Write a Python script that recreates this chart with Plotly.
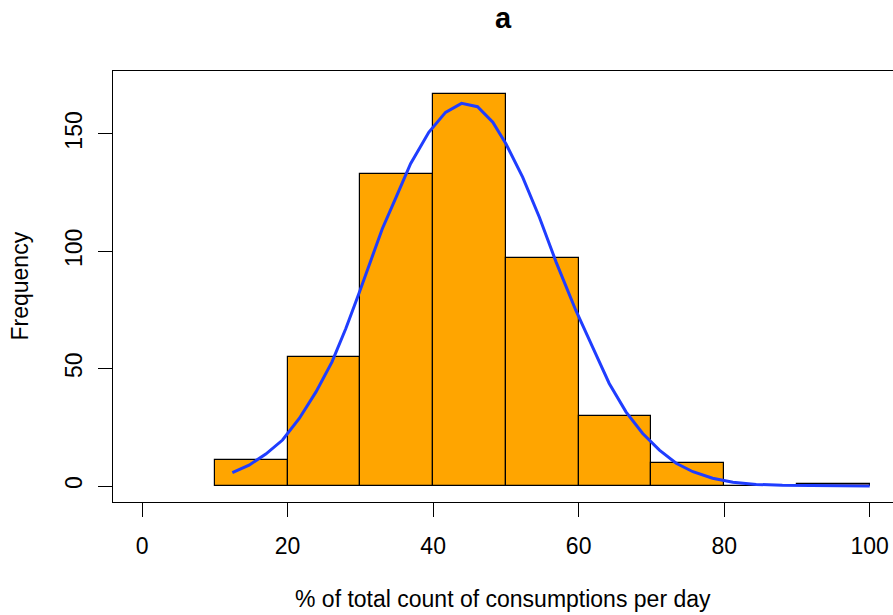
import plotly.graph_objects as go

# Histogram bins (left edges) and counts
bin_left = [10, 20, 30, 40, 50, 60, 70, 80, 90]
counts = [11, 55, 133, 167, 97, 30, 10, 0, 1]
bin_width = 10

# Fitted density curve (scaled to counts)
curve_x = [12.4, 14.7, 17.0, 19.3, 21.6, 23.9, 26.1, 28.0, 29.8, 31.6, 33.0, 34.9,
           36.9, 39.4, 41.7, 43.9, 46.1, 48.2, 50.0, 52.3, 54.6, 56.9, 59.6, 61.9,
           64.2, 66.5, 68.8, 71.1, 73.4, 75.7, 78.4, 81.2, 84.4, 88.0, 92.0, 96.0, 100.0]
curve_y = [5.7, 8.9, 13.6, 19.6, 28.8, 40.1, 52.9, 67.1, 82.0, 97.5, 109.5, 123.0,
           137.3, 150.7, 159.2, 163.0, 161.6, 155.0, 145.8, 131.6, 114.5, 95.4, 74.9, 59.3,
           43.7, 31.6, 22.4, 15.3, 9.7, 6.1, 3.3, 1.6, 0.7, 0.3, 0.1, 0.0, 0.0]

x_ticks = [0, 20, 40, 60, 80, 100]
y_ticks = [0, 50, 100, 150]

FONT = "Liberation Sans, Arial, Helvetica, sans-serif"

bar_centers = [l + bin_width / 2 for l in bin_left]

fig = go.Figure()
fig.add_trace(go.Bar(
    x=bar_centers, y=counts, width=[bin_width] * len(counts),
    marker=dict(color="#FFA500", line=dict(color="black", width=1.2)),
    showlegend=False, hoverinfo="skip",
))
fig.add_trace(go.Scatter(
    x=curve_x, y=curve_y, mode="lines",
    line=dict(color="#1F3DFF", width=3),
    showlegend=False, hoverinfo="skip",
))

fig.update_layout(
    width=893, height=615,
    margin=dict(l=113, r=0, t=71, b=113),
    paper_bgcolor="white", plot_bgcolor="white",
    font=dict(family=FONT, size=23, color="black"),
    bargap=0,
    title=dict(text="<b>a</b>", x=0.5, xref="paper", xanchor="center",
               y=1 - 18 / 615, yref="container", yanchor="middle",
               font=dict(size=29, family=FONT, color="black")),
    xaxis=dict(range=[-4, 103.2], tickmode="array", tickvals=x_ticks,
               ticktext=[str(v) for v in x_ticks],
               showgrid=False, zeroline=False, showline=True, mirror=True,
               linecolor="black", linewidth=1, ticks="outside", ticklen=14,
               tickcolor="black", ticklabelstandoff=9),
    yaxis=dict(range=[-6.8, 176.8], tickmode="array", tickvals=y_ticks,
               ticktext=[str(v) for v in y_ticks], tickangle=-90,
               showgrid=False, zeroline=False, showline=True, mirror=False,
               linecolor="black", linewidth=1, ticks="outside", ticklen=14,
               tickcolor="black", ticklabelstandoff=7),
    annotations=[
        dict(text="% of total count of consumptions per day", xref="paper", yref="paper",
             x=0.5, y=0, xanchor="center", yanchor="middle", yshift=-97,
             showarrow=False, font=dict(size=23, family=FONT, color="black")),
        dict(text="Frequency", xref="paper", yref="paper", x=0, y=0.5,
             xanchor="center", yanchor="middle", xshift=-94, textangle=-90,
             showarrow=False, font=dict(size=23, family=FONT, color="black")),
    ],
)

fig.write_html("out.html")
